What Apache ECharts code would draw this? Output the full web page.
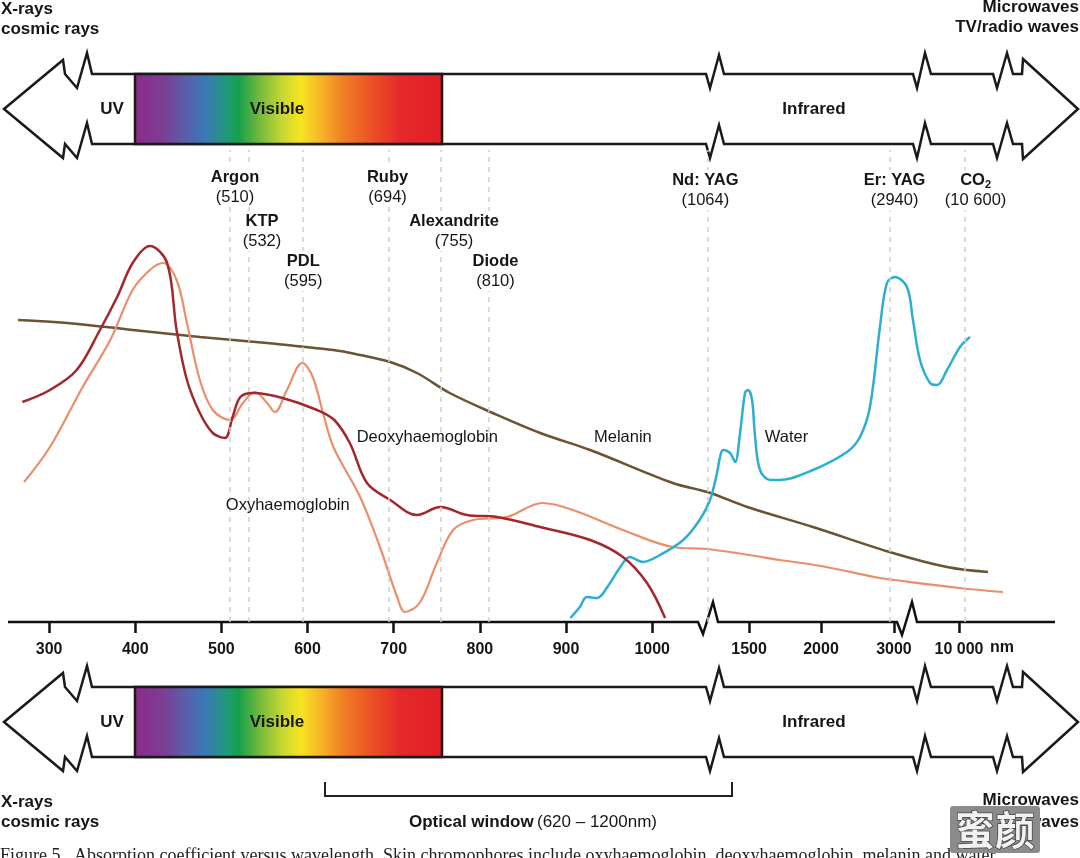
<!DOCTYPE html>
<html><head><meta charset="utf-8">
<script src="https://cdn.jsdelivr.net/npm/echarts@6/dist/echarts.min.js"></script>
<style>html,body{margin:0;padding:0;background:#fff}#c{width:1080px;height:858px}</style>
</head><body><div id="c"></div>
<script>
// ---------------- DATA ----------------
const tickNm = [300,400,500,600,700,800,900,1000,1500,2000,3000,10000];
const tickLabels = ['300','400','500','600','700','800','900','1000','1500','2000','3000','10 000'];

const laserNames = ['Argon','KTP','PDL','Ruby','Alexandrite','Diode','Nd: YAG','Er: YAG','CO2'];
const laserNm = [510,532,595,694,755,810,1064,2940,10600];
const laserText = ['(510)','(532)','(595)','(694)','(755)','(810)','(1064)','(2940)','(10 600)'];

const deoxyNm = [269,301,332,359,379,397,417,437,448,460,475,490,504,513,522,537,571,611,631,649,669,696,727,754,785,820,870,928,966,994,1015];
const deoxyAbs = [55,58,63,73,81.25,89.75,94,89.75,73,60.5,52.25,47.25,46,51.25,56.25,57.25,56,53,50.5,44.75,34.75,30.5,26.75,28.75,26.75,26.25,23.75,20.5,16.25,9.75,1];

const oxyNm = [271,301,339,371,397,417,432,448,460,475,490,510,525,539,553,562,576,594,606,618,630,661,684,704,713,730,750,769,792,831,873,908,966,1024,1064,1500,1715,2000,2808,3000,10000,14738];
const oxyAbs = [35,43.75,58.75,70.5,83,88,89.75,85.5,74.75,60.5,53,50.5,54.75,57.5,54.75,52.5,58,64.75,61.25,52.25,43.75,31.25,18.75,6.25,2.5,4.75,14.75,23,25.5,26.25,29.75,28,23,18.75,18.25,16.75,15.5,14,11,10.5,8.5,7.5];

const melaninNm = [264,321,397,475,553,630,661,696,727,765,815,870,928,1024,1064,1482,1944,2986,8706,13121];
const melaninAbs = [75.5,74.75,73,71.25,69.75,68,66.75,65,62.25,57.25,52.25,47.25,43,34.75,32.5,28.75,23.75,17.25,13.75,12.5];

const waterNm = [905,916,924,936,948,963,974,989,1009,1036,1055,1092,1165,1197,1228,1302,1354,1406,1458,1489,1521,1542,1576,1646,1715,1944,2356,2534,2671,2808,2904,3108,4400,5046,5800,6877,7631,8708,10108,11184];
const waterAbs = [1,3.75,6.25,6,8.75,13.75,16.25,15,16.75,20.5,25.5,30.5,37.25,41.25,43,42.25,40,47.25,57.25,58,55.5,46.25,38,35.5,35.5,38,42.5,46.25,53.75,73.75,84.75,86.25,83.75,75.5,65.5,59.75,59.25,63,68.75,71.25];

const curveLabelText = ['Deoxyhaemoglobin','Oxyhaemoglobin','Melanin','Water'];
const curveLabelNm = [739,577,966,1760];
const curveLabelAbs = [46.25,29.25,46.25,46.25];

// ---------------- BROKEN-AXIS MAPPING (schematic wavelength axis) ----------------
const brkNm = [1064,1500,2000,3000,10000];
const brkPos = [1064,1112.4,1195.9,1280.6,1356.1];
function nmToPos(nm){
  if (nm <= brkNm[0]) return nm;
  for (let i=1;i<brkNm.length;i++){
    if (nm <= brkNm[i]){
      const t=(nm-brkNm[i-1])/(brkNm[i]-brkNm[i-1]);
      return brkPos[i-1]+t*(brkPos[i]-brkPos[i-1]);
    }
  }
  const n=brkNm.length;
  const s=(brkPos[n-1]-brkPos[n-2])/(brkNm[n-1]-brkNm[n-2]);
  return brkPos[n-1]+(nm-brkNm[n-1])*s;
}
const pairs = (xs, ys) => xs.map((x,i)=>[nmToPos(x), ys[i]]);
const tickPos = tickNm.map(nmToPos);
function labelFor(v){
  let best=0, d=1e9;
  tickPos.forEach((p,i)=>{ if (Math.abs(p-v)<d){d=Math.abs(p-v);best=i;} });
  return tickLabels[best];
}

// ---------------- LAYOUT / STYLE ----------------
const FONT = 'Liberation Sans, Arial, Helvetica, sans-serif';
const TXT = '#161616';
const laserLabelY = [108.75,97.75,87.75,108.75,97.75,87.75,107.9,107.9,107.9];
const laserNudge = [5,13,0,-1,13,7,-2,5,11];

function bandPoints(dy){
  const P=[[4,109],[63,60],[65,74],[77,88],[87,53],[92,74],[706,74],[710,88],[719,55],[724,74],
    [913,74],[917,88],[925,53],[931,74],[993,74],[997,88],[1007,53],[1013,74],[1022,74],[1023,59],
    [1078,109],[1023,159],[1022,144],[1013,144],[1007,123],[997,158],[993,144],[931,144],[925,123],
    [917,158],[913,144],[724,144],[719,125],[710,158],[706,144],[92,144],[87,123],[77,158],[65,144],[63,158]];
  return P.map(p=>[p[0],p[1]+dy]);
}
const rainbow = {type:'linear',x:0,y:0,x2:1,y2:0,colorStops:[
  {offset:0,color:'#8d2a8a'},{offset:0.1,color:'#7a3f95'},{offset:0.17,color:'#5a5fab'},
  {offset:0.23,color:'#3a78b8'},{offset:0.3,color:'#1f9a7a'},{offset:0.34,color:'#16a04c'},
  {offset:0.41,color:'#78bb3c'},{offset:0.48,color:'#c9d731'},{offset:0.54,color:'#f6e51f'},
  {offset:0.6,color:'#f6b828'},{offset:0.68,color:'#f07d23'},{offset:0.76,color:'#ec5524'},
  {offset:0.86,color:'#e5292a'},{offset:1,color:'#e21e26'}]};

function band(dy){
  return [
    {type:'polygon',shape:{points:bandPoints(dy)},style:{fill:'#fff',stroke:'#1a1a1a',lineWidth:2.5,lineJoin:'miter'},z:1},
    {type:'rect',shape:{x:135,y:74+dy,width:307,height:70},style:{fill:rainbow,stroke:'#1a1a1a',lineWidth:2.5},z:2},
    {type:'text',x:112,y:109+dy,style:{text:'UV',font:'bold 17px '+FONT,fill:TXT,align:'center',verticalAlign:'middle'},z:3},
    {type:'text',x:277,y:109+dy,style:{text:'Visible',font:'bold 17px '+FONT,fill:TXT,align:'center',verticalAlign:'middle'},z:3},
    {type:'text',x:814,y:109+dy,style:{text:'Infrared',font:'bold 17px '+FONT,fill:TXT,align:'center',verticalAlign:'middle'},z:3}
  ];
}
function txt(x,y,t,opts){
  return Object.assign({type:'text',x:x,y:y,z:3,style:Object.assign({text:t,font:'bold 17px '+FONT,fill:TXT,align:'left',verticalAlign:'middle'},opts||{})});
}

const graphics = [].concat(
  band(0), band(613),
  [
    {type:'polyline',shape:{points:[[8,622],[698,622],[703,634],[713,602],[718,622],[897,622],[902,635],[912,602],[917,622],[1055,622]]},
      style:{stroke:'#111',lineWidth:2.5,fill:null,lineJoin:'miter'},z:3},
    txt(1,9,'X-rays'), txt(1,29,'cosmic rays'),
    txt(1079,7,'Microwaves',{align:'right'}), txt(1079,27,'TV/radio waves',{align:'right'}),
    txt(1,802,'X-rays'), txt(1,822,'cosmic rays'),
    txt(1079,800,'Microwaves',{align:'right'}), txt(1079,822,'TV/radio waves',{align:'right'}),
    txt(990,648,'nm',{font:'bold 16px '+FONT}),
    {type:'polyline',shape:{points:[[325,782],[325,796],[732,796],[732,782]]},style:{stroke:'#222',lineWidth:2,fill:null},z:3},
    {type:'text',x:533,y:822,z:3,style:{text:'{b|Optical window} {r|(620 – 1200nm)}',align:'center',verticalAlign:'middle',
      rich:{b:{font:'bold 17px '+FONT,fill:TXT},r:{font:'17px '+FONT,fill:TXT}}}},
    {type:'text',x:0,y:847,z:3,style:{text:'Figure 5   Absorption coefficient versus wavelength. Skin chromophores include oxyhaemoglobin, deoxyhaemoglobin, melanin and water.',
      font:'18px Liberation Serif, DejaVu Serif, serif',fill:'#222',align:'left',verticalAlign:'top'}},
    {type:'rect',shape:{x:950,y:806,width:90,height:47,r:3},style:{fill:'#8c8c8c'},z:5},
    {type:'text',x:995,y:830,z:6,style:{text:'蜜颜',font:'bold 40px Noto Sans CJK SC',fill:'#f2f2f2',stroke:'#444',lineWidth:1.5,align:'center',verticalAlign:'middle'}}
  ]
);

function curve(name, xs, ys, color, w, z){
  return {type:'line',name:name,data:pairs(xs,ys),smooth:0.35,showSymbol:false,symbol:'none',z:z,
    lineStyle:{color:color,width:w},itemStyle:{color:color},silent:true};
}

const option = {
  animation:false,
  backgroundColor:'#fff',
  grid:{left:6,right:22,top:150,bottom:236,containLabel:false},
  xAxis:{type:'value',min:250,max:1471,
    axisLine:{show:false},splitLine:{show:false},
    axisTick:{show:true,customValues:tickPos,length:11,lineStyle:{color:'#111',width:2.5}},
    axisLabel:{show:true,customValues:tickPos,formatter:v=>labelFor(v),margin:20,fontSize:16,fontWeight:'bold',color:TXT,fontFamily:FONT}},
  yAxis:{type:'value',min:0,max:118,show:false,splitLine:{show:false}},
  graphic:graphics,
  series:[
    {type:'line',name:'lasers',data:[],z:1,silent:true,
      markLine:{symbol:'none',silent:true,animation:false,label:{show:false},
        lineStyle:{color:'#cfcfcf',width:1.5,type:[5,5]},
        data:laserNm.map(n=>({xAxis:nmToPos(n)}))}},
    curve('Melanin',melaninNm,melaninAbs,'#6b5333',2.5,3),
    curve('Oxyhaemoglobin',oxyNm,oxyAbs,'#e98f6c',2.2,3),
    curve('Water',waterNm,waterAbs,'#2eaed2',2.5,3),
    curve('Deoxyhaemoglobin',deoxyNm,deoxyAbs,'#a2282c',2.5,4),
    {type:'scatter',name:'laserLabels',symbolSize:0,z:10,silent:true,itemStyle:{opacity:1},
      data:laserNames.map((n,i)=>({name:n,value:[nmToPos(laserNm[i]),laserLabelY[i]],
        label:{offset:[laserNudge[i],0]}})),
      label:{show:true,position:'inside',backgroundColor:'#fff',padding:[0,2],opacity:1,
        formatter:p=>{
          const i=p.dataIndex;
          const nm = laserNames[i]==='CO2' ? '{n|CO}{s|2}' : '{n|'+laserNames[i]+'}';
          return nm+'\n{v|'+laserText[i]+'}';
        },
        rich:{n:{fontSize:16.5,fontWeight:'bold',color:TXT,fontFamily:FONT,lineHeight:20},
              s:{fontSize:11,fontWeight:'bold',color:TXT,fontFamily:FONT,lineHeight:20,padding:[9,0,0,0]},
              v:{fontSize:16.5,color:TXT,fontFamily:FONT,lineHeight:20,align:'center'}}}},
    {type:'scatter',name:'curveLabels',symbolSize:0,z:10,silent:true,itemStyle:{opacity:1},
      data:curveLabelText.map((t,i)=>({name:t,value:[nmToPos(curveLabelNm[i]),curveLabelAbs[i]]})),
      label:{show:true,position:'inside',opacity:1,formatter:p=>p.name,fontSize:16.5,color:TXT,fontFamily:FONT}}
  ]
};
const chart = echarts.init(document.getElementById('c'),null,{renderer:'canvas'});
chart.setOption(option);
</script></body></html>
